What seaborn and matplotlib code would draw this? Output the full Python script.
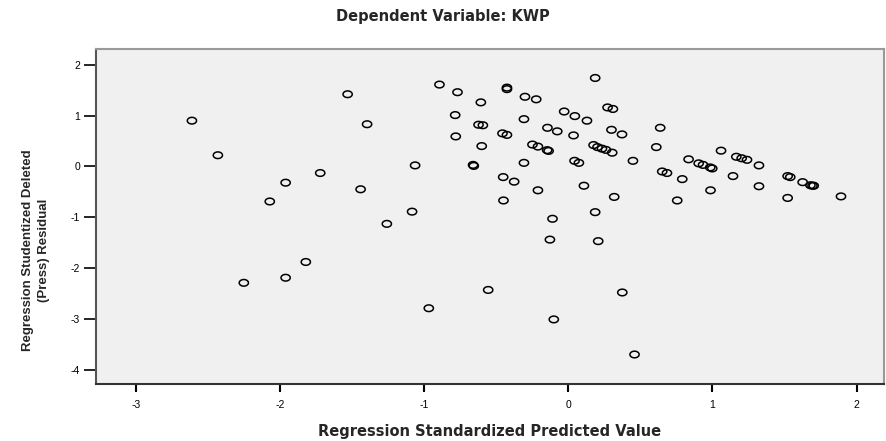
"""Residual plot: studentized deleted residual vs standardized predicted value."""

import matplotlib

matplotlib.use("Agg")

import matplotlib.pyplot as plt
import numpy as np
import pandas as pd
import seaborn as sns
from matplotlib.path import Path

# values
predicted = [
    -2.61, -2.43, -2.07, -1.96, -1.72, -1.53, -1.82, -1.96, -2.25, -1.395,
    -0.893, -0.768, -0.606, -0.425, -0.425, -0.30, -0.222, 0.187, -0.784, -0.622,
    -0.592, -0.307, -0.028, 0.046, 0.13, 0.273, 0.31, -0.78, -0.60, -0.456,
    -0.425, -0.144, -0.076, 0.037, -0.248, -0.21, -0.146, -0.136, 0.176, 0.203,
    0.234, 0.262, 0.305, -1.062, -0.66, -0.655, -0.307, 0.044, 0.074, -1.44,
    -0.451, -0.375, -0.21, 0.109, -0.449, -1.083, 0.187, -0.109, -1.258, -0.127,
    0.208, -0.555, -0.967, -0.10, 0.375, 0.46, 0.30, 0.373, 0.638, 0.449,
    0.611, 0.652, 0.685, 0.791, 0.319, 0.756, 0.835, 0.905, 0.935, 0.985,
    0.999, 1.06, 0.987, 1.143, 1.166, 1.203, 1.24, 1.323, 1.323, 1.522,
    1.54, 1.522, 1.626, 1.68, 1.694, 1.703, 1.892,
]
residual = [
    0.90, 0.22, -0.69, -0.32, -0.13, 1.42, -1.88, -2.19, -2.29, 0.83,
    1.61, 1.46, 1.26, 1.55, 1.52, 1.37, 1.32, 1.74, 1.01, 0.82,
    0.81, 0.93, 1.08, 0.99, 0.90, 1.16, 1.13, 0.59, 0.40, 0.65,
    0.62, 0.76, 0.69, 0.61, 0.43, 0.39, 0.32, 0.305, 0.42, 0.38,
    0.35, 0.325, 0.27, 0.02, 0.03, 0.01, 0.07, 0.11, 0.07, -0.45,
    -0.21, -0.30, -0.47, -0.38, -0.67, -0.89, -0.90, -1.03, -1.13, -1.44,
    -1.47, -2.43, -2.79, -3.01, -2.48, -3.70, 0.72, 0.63, 0.76, 0.11,
    0.38, -0.10, -0.13, -0.25, -0.60, -0.67, 0.14, 0.06, 0.03, -0.02,
    -0.04, 0.31, -0.47, -0.19, 0.19, 0.16, 0.13, 0.02, -0.39, -0.19,
    -0.21, -0.62, -0.31, -0.37, -0.38, -0.38, -0.59,
]
x_ticks = [-3, -2, -1, 0, 1, 2]
y_ticks = [-4, -3, -2, -1, 0, 1, 2]


def ellipse_marker(aspect: float = 0.72) -> Path:
    theta = np.linspace(0, 2 * np.pi, 64)
    verts = np.column_stack([np.cos(theta), aspect * np.sin(theta)])
    return Path(verts, closed=True)


def main() -> None:
    sns.set_style("white")
    plt.rcParams["font.family"] = ["Liberation Sans", "DejaVu Sans"]

    df = pd.DataFrame({"predicted": predicted, "residual": residual})

    fig = plt.figure(figsize=(8.86, 4.41), dpi=100)
    ax = fig.add_axes([0.1084, 0.1293, 0.8893, 0.7596])
    ax.set_facecolor("#f0f0f0")

    sns.scatterplot(
        data=df,
        x="predicted",
        y="residual",
        ax=ax,
        marker=ellipse_marker(),
        s=44,
        facecolor="none",
        edgecolor="black",
        linewidth=1.1,
    )

    ax.set_xlim(-3.275, 2.19)
    ax.set_ylim(-4.28, 2.31)
    ax.set_xticks(x_ticks)
    ax.set_yticks(y_ticks)
    ax.set_xticklabels([str(t) for t in x_ticks], fontsize=7.5)
    ax.set_yticklabels([str(t) for t in y_ticks], fontsize=7.5)
    ax.tick_params(axis="x", bottom=True, direction="out", length=5.5, width=1.5,
                   pad=6, colors="black")
    ax.tick_params(axis="y", left=True, direction="out", length=8.5, width=1.2,
                   pad=3, colors="black")

    for side in ("top", "right"):
        ax.spines[side].set_color("#999999")
        ax.spines[side].set_linewidth(1.5)
    ax.spines["left"].set_color("#555555")
    ax.spines["left"].set_linewidth(1.5)
    ax.spines["bottom"].set_color("#333333")
    ax.spines["bottom"].set_linewidth(1.5)

    ax.set_xlabel("Regression Standardized Predicted Value", fontsize=10.5,
                  fontweight="bold", family=["DejaVu Sans"], labelpad=10)
    ax.set_ylabel("Regression Studentized Deleted\n(Press) Residual", fontsize=9.5,
                  fontweight="bold", linespacing=1.45,
                  family=["Liberation Sans Narrow", "Liberation Sans"])
    ax.yaxis.set_label_coords(-0.058, 0.40)
    fig.text(0.5, 0.962, "Dependent Variable: KWP", ha="center", va="center",
             fontsize=10.5, fontweight="bold", family=["DejaVu Sans"])

    fig.savefig("out.png", dpi=100)
    plt.close(fig)


if __name__ == "__main__":
    main()
